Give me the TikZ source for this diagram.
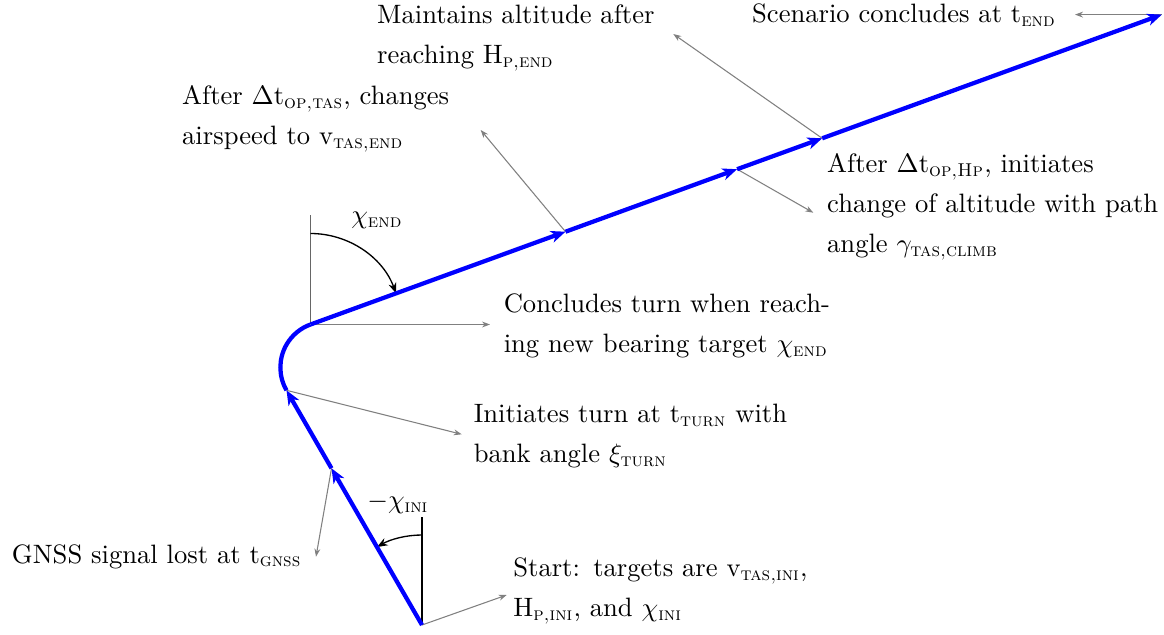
\documentclass[tikz,border=0pt]{standalone}
\usepackage{amsmath}
\usetikzlibrary{arrows.meta}
\linespread{1.25}
\hyphenation{airspeed}
\begin{document}
\begin{tikzpicture}[x=0.376pt,y=0.376pt,
  traj/.style={blue, line width=1.6pt, -{Stealth[length=5.5pt,width=4.5pt,inset=1.6pt]}},
  trajarc/.style={blue, line width=1.6pt},
  annot/.style={gray, line width=0.4pt, -{Stealth[length=3pt,width=2.2pt]}},
  angarc/.style={black, line width=0.5pt, -{Stealth[length=4pt,width=3pt]}},
  refline/.style={black!60, line width=0.7pt},
  refblack/.style={black, line width=0.4pt},
  lbl/.style={text width=126pt, align=left, inner sep=0.333em, font=\linespread{1.25}\selectfont},
  onelbl/.style={inner sep=0.333em}]
\useasboundingbox (0,0) rectangle (1164,634);
% trajectory points
\coordinate (S) at (422,9);
\coordinate (G) at (331.5,165.7);
\coordinate (T) at (286.5,243.7);
\coordinate (E) at (310.5,309.5);
\coordinate (P1) at (565.5,402.3);
\coordinate (P2) at (737.1,464.8);
\coordinate (P3) at (822.2,495.7);
\coordinate (F) at (1161.9,619.4);
\coordinate (Snorth) at (422,117);
\coordinate (Enorth) at (310.5,419);
% reference lines
\draw[refline] (E) -- (Enorth);
\draw[refblack] (S) -- (Snorth);
% angle arcs
\draw[angarc] ([shift={(90:91)}]E) arc[start angle=90, end angle=20, radius=91];
\draw[angarc] ([shift={(90:90)}]S) arc[start angle=90, end angle=120, radius=90];
\node (chiend) at (377,414) {$\chi_{\textsc{end}}$};
\node (chiini) at (398,131) {$-\chi_{\textsc{ini}}$};
% annotation targets
\coordinate (aS) at (506.7,39);
\coordinate (aG) at (316,77.3);
\coordinate (aT) at (461.7,199.7);
\coordinate (aE) at (490,309.5);
\coordinate (aP1) at (480.7,504);
\coordinate (aP2) at (813.3,421.3);
\coordinate (aP3) at (673.3,600);
\coordinate (aF) at (1075,619.4);
\draw[annot] (S) -- (aS);
\draw[annot] (G) -- (aG);
\draw[annot] (T) -- (aT);
\draw[annot] (E) -- (aE);
\draw[annot] (P1) -- (aP1);
\draw[annot] (P2) -- (aP2);
\draw[annot] (P3) -- (aP3);
\draw[annot] (F) -- (aF);
% labels
\node[lbl, anchor=west] (lS) at (504,43) {Start: targets are $\mathrm{v}_{\textsc{tas,ini}}$, $\mathrm{H}_{\textsc{p,ini}}$, and $\chi_{\textsc{ini}}$};
\node[onelbl, anchor=base east] (lG) at (311,71) {GNSS signal lost at $\mathrm{t}_{\textsc{gnss}}$};
\node[lbl, anchor=west] (lT) at (464.4,198) {Initiates turn at $\mathrm{t}_{\textsc{turn}}$ with bank angle $\xi_{\textsc{turn}}$};
\node[lbl, anchor=west] (lE) at (494.4,308) {Concludes turn when reaching new bearing target $\chi_{\textsc{end}}$};
\node[lbl, anchor=west] (lP1) at (172.8,515) {After $\Delta\mathrm{t}_{\textsc{op,tas}}$, changes airspeed to $\mathrm{v}_{\textsc{tas,end}}$};
\node[lbl, anchor=west] (lP2) at (817.8,427) {After $\Delta\mathrm{t}_{\textsc{op,Hp}}$, initiates change of altitude with path angle $\gamma_{\textsc{tas,climb}}$};
\node[lbl, anchor=west] (lP3) at (367.8,596) {Maintains altitude after reaching $\mathrm{H}_{\textsc{p,end}}$};
\node[onelbl, anchor=base west] (lF) at (742.8,611.3) {Scenario concludes at $\mathrm{t}_{\textsc{end}}$};
% trajectory
\draw[traj] (S) -- (G);
\draw[traj] (G) -- (T);
\draw[trajarc] (T) arc[start angle=210, end angle=110, radius=45.7];
\draw[traj] (E) -- (P1);
\draw[traj] (P1) -- (P2);
\draw[traj] (P2) -- (P3);
\draw[traj] (P3) -- (F);
\end{tikzpicture}
\end{document}
